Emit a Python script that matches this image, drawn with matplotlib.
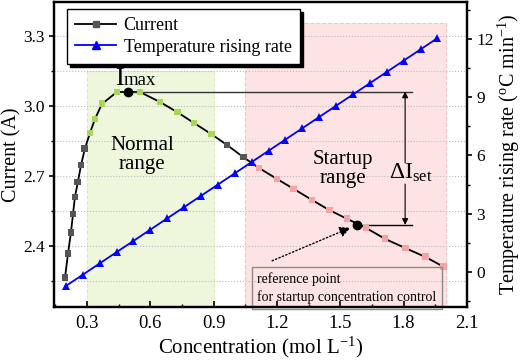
import matplotlib
matplotlib.use('Agg')
import matplotlib.pyplot as plt
from matplotlib.ticker import MultipleLocator
from matplotlib.lines import Line2D
import matplotlib.transforms as mtransforms

plt.rcParams['font.family'] = ['Liberation Serif', 'DejaVu Serif']
plt.rcParams['mathtext.fontset'] = 'custom'
plt.rcParams['mathtext.rm'] = 'Liberation Serif'
plt.rcParams['mathtext.it'] = 'Liberation Serif:italic'

# ---- data ----
conc = [0.196, 0.21, 0.224, 0.234, 0.243, 0.257, 0.272, 0.29, 0.314, 0.338,
        0.371, 0.442, 0.551, 0.646, 0.727, 0.807, 0.888, 0.963, 1.04, 1.115,
        1.2, 1.28, 1.366, 1.447, 1.532, 1.622, 1.712, 1.807, 1.902, 1.99]
current = [2.263, 2.366, 2.456, 2.537, 2.61, 2.674, 2.747, 2.816, 2.884, 2.944,
           3.009, 3.06, 3.06, 3.017, 2.974, 2.927, 2.88, 2.833, 2.781, 2.734,
           2.687, 2.644, 2.597, 2.554, 2.516, 2.477, 2.43, 2.391, 2.353, 2.31]
temp_conc = [0.2, 0.28, 0.36, 0.44, 0.52, 0.6, 0.68, 0.76, 0.84, 0.92, 1.0, 1.08,
             1.16, 1.24, 1.32, 1.4, 1.48, 1.56, 1.64, 1.72, 1.8, 1.88, 1.96]
temp_rate = [-0.72, -0.14, 0.44, 1.02, 1.60, 2.18, 2.76, 3.34, 3.92, 4.50, 5.08,
             5.66, 6.24, 6.82, 7.40, 7.98, 8.56, 9.14, 9.72, 10.30, 10.88, 11.46, 12.04]
imax_point = (0.494, 3.062)
ref_point = (1.58, 2.49)
normal_range = (0.3, 0.9)
normal_top = 3.15
startup_range = (1.05, 2.0)
startup_top = 3.356
dI_x = 1.807
dI_line_end = 1.84

green_fill = '#eef6dc'
green_edge = '#dcebbd'
pink_fill = '#fde3e3'
pink_edge = '#f5c4c4'
green_mk = '#a8d65a'
pink_mk = '#f3a5a5'
gray_mk = '#555555'

fig = plt.figure(figsize=(5.26, 3.62), dpi=100)
ax = fig.add_axes([0.1027, 0.152, 0.7851, 0.8425])
ax2 = ax.twinx()

ax.set_xlim(0.144, 2.1)
ax.set_ylim(2.138, 3.446)
ax2.set_ylim(-1.80, 13.9)

# shaded ranges
ax.fill_between(normal_range, [ax.get_ylim()[0]] * 2, [normal_top] * 2,
                facecolor=green_fill, edgecolor=green_edge, linestyle='--', lw=0.8, zorder=0.8)
ax.fill_between(startup_range, [ax.get_ylim()[0]] * 2, [startup_top] * 2,
                facecolor=pink_fill, edgecolor=pink_edge, linestyle='--', lw=0.8, zorder=0.8)

ax.set_axisbelow('line')
ax.grid(which='both', axis='y', ls=':', color='#bdbdbd', lw=0.8)

# current curve
ax.plot(conc, current, color='black', lw=1.3, zorder=2)
mk_colors = []
for c in conc:
    if normal_range[0] <= c <= normal_range[1]:
        mk_colors.append(green_mk)
    elif startup_range[0] <= c <= startup_range[1] + 0.01:
        mk_colors.append(pink_mk)
    else:
        mk_colors.append(gray_mk)
ax.scatter(conc, current, marker='s', s=24, c=mk_colors, zorder=2.5, linewidths=0)

# special points and guide lines
ax.plot([imax_point[0], dI_line_end], [imax_point[1]] * 2, color='#333333', lw=1.0, zorder=2.2)
ax.plot([ref_point[0], dI_line_end], [ref_point[1]] * 2, color='black', lw=1.0, zorder=2.2)
ax.plot(*imax_point, 'o', color='black', ms=6, zorder=3)
ax.plot(*ref_point, 'o', color='black', ms=6, zorder=3)

# Imax label
ax.text(0.433, 3.09, 'I', fontsize=19, va='baseline', ha='left')
offs = mtransforms.offset_copy(ax.transData, fig=fig, x=6.5, y=0, units='points')
ax.text(0.433, 3.09, 'max', fontsize=13.5, va='baseline', ha='left', transform=offs)

# Delta I set
ax.text(1.835, 2.712, r'ΔI$_{\mathrm{set}}$', fontsize=17, ha='center', va='center')
ax.annotate('', xy=(dI_x, imax_point[1]), xytext=(dI_x, 2.756),
            arrowprops=dict(arrowstyle='-|>', color='black', lw=0.8, mutation_scale=9,
                            shrinkA=0, shrinkB=0))
ax.annotate('', xy=(dI_x, ref_point[1]), xytext=(dI_x, 2.665),
            arrowprops=dict(arrowstyle='-|>', color='black', lw=0.8, mutation_scale=9,
                            shrinkA=0, shrinkB=0))

# range labels
ax.text(0.56, 2.79, 'Normal\nrange', fontsize=15, ha='center', va='center', linespacing=1.05)
ax.text(1.51, 2.73, 'Startup\nrange', fontsize=15, ha='center', va='center', linespacing=1.05)

# reference-point annotation
ax.annotate('', xy=(1.548, 2.478), xytext=(1.177, 2.336),
            arrowprops=dict(arrowstyle='-|>', color='black', lw=1.0, ls=':',
                            mutation_scale=16, shrinkA=0, shrinkB=0))
ax.text(1.106, 2.219, 'reference point\nfor startup concentration control', fontsize=10,
        ha='left', va='center', linespacing=1.35, zorder=4,
        bbox=dict(boxstyle='square,pad=0.4', fc='none', ec='#8a8a8a', lw=1.0))

# temperature line
ax2.plot(temp_conc, temp_rate, color='#0000ff', lw=1.3, marker='^', ms=6,
         markeredgewidth=0, zorder=3)

# axes styling
ax.xaxis.set_major_locator(MultipleLocator(0.3))
ax.xaxis.set_minor_locator(MultipleLocator(0.15))
ax.yaxis.set_major_locator(MultipleLocator(0.3))
ax.yaxis.set_minor_locator(MultipleLocator(0.15))
ax2.yaxis.set_major_locator(MultipleLocator(3))
ax2.yaxis.set_minor_locator(MultipleLocator(1.5))

ax.tick_params(axis='x', which='both', direction='in', labelsize=13.5, top=False, pad=6)
ax.tick_params(axis='x', which='major', length=4, width=1.2)
ax.tick_params(axis='x', which='minor', length=2.5, width=1.0)
ax.tick_params(axis='y', which='both', direction='out', labelsize=12.5, right=False, pad=3)
ax.tick_params(axis='y', which='major', length=3.5, width=1.2)
ax.tick_params(axis='y', which='minor', length=2.5, width=1.0)
ax2.tick_params(axis='y', which='both', direction='out', labelsize=12.5, pad=3)
ax2.tick_params(axis='y', which='major', length=3.5, width=1.2)
ax2.tick_params(axis='y', which='minor', length=2.5, width=1.0)

for a in (ax, ax2):
    for s in a.spines.values():
        s.set_linewidth(1.6)

ax.set_xlabel(r'Concentration (mol L$^{\mathrm{-1}}$)', fontsize=15, labelpad=2)
ax.set_ylabel('Current (A)', fontsize=14.5, labelpad=1)
ax2.set_ylabel(r'Temperature rising rate ($^{\mathrm{o}}$C min$^{\mathrm{-1}}$)',
               fontsize=14.5, labelpad=1.5)

# legend
h1 = Line2D([], [], color='black', lw=1.3, marker='s', ms=4.5, mfc=gray_mk, mec=gray_mk)
h2 = Line2D([], [], color='#0000ff', lw=1.3, marker='^', ms=6, mec='#0000ff')
leg = ax2.legend([h1, h2], ['Current', 'Temperature rising rate'], loc='upper left',
                 bbox_to_anchor=(0.031, 0.977), fontsize=13, fancybox=False,
                 edgecolor='black', framealpha=1,
                 shadow={'color': 'black', 'alpha': 1},
                 handlelength=2.3, handletextpad=0.4, borderpad=0.45,
                 labelspacing=0.25, borderaxespad=0)
leg.get_frame().set_linewidth(1.0)

fig.savefig('out.png', dpi=100)
